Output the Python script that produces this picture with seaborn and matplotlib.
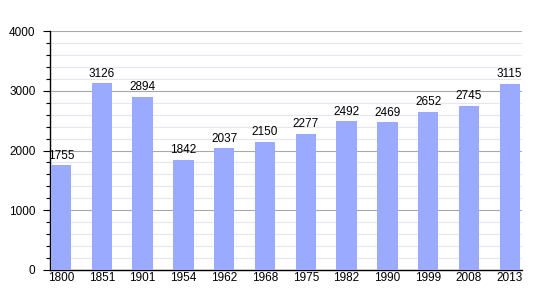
import matplotlib
matplotlib.use("Agg")
import matplotlib.pyplot as plt
import seaborn as sns
import pandas as pd
from matplotlib.ticker import MultipleLocator

years = ["1800", "1851", "1901", "1954", "1962", "1968", "1975", "1982", "1990", "1999", "2008", "2013"]
population = [1755, 3126, 2894, 1842, 2037, 2150, 2277, 2492, 2469, 2652, 2745, 3115]

df = pd.DataFrame({"year": years, "pop": population})

sns.set_theme(style="white")
plt.rcParams['font.family'] = ['Liberation Sans', 'DejaVu Sans']

fig = plt.figure(figsize=(5.5, 3), dpi=100)
ax = fig.add_axes([50/550, 30/300, 472/550, 239/300])

sns.barplot(data=df, x="year", y="pop", color="#99aaff", saturation=1, width=0.5,
            ax=ax, zorder=3, edgecolor="none", linewidth=0)

ax.set_ylim(0, 4000)
ax.set_xlim(-0.27, 11.3)
ax.yaxis.set_major_locator(MultipleLocator(1000))
ax.yaxis.set_minor_locator(MultipleLocator(200))
ax.grid(which="major", axis="y", color="#a8a8a8", linewidth=0.8, zorder=0)
ax.grid(which="minor", axis="y", color="#e6e6ee", linewidth=0.8, zorder=0)
ax.set_axisbelow(True)

for s in ["top", "right"]:
    ax.spines[s].set_visible(False)
for s in ["left", "bottom"]:
    ax.spines[s].set_color("black")
    ax.spines[s].set_linewidth(1)

ax.tick_params(axis="y", which="major", left=True, length=5, width=0.8, color="black",
               labelsize=8.5, pad=5.5, labelcolor="black")
ax.tick_params(axis="y", which="minor", left=True, length=3, width=0.8, color="black")
ax.tick_params(axis="x", bottom=False, length=0, labelsize=8.5, pad=1.5, labelcolor="black")
ax.set_xlabel("")
ax.set_ylabel("")

for i, v in enumerate(population):
    ax.text(i, v + 60, str(v), ha="center", va="bottom", fontsize=8.5, color="black")

fig.savefig("out.png", dpi=100)
